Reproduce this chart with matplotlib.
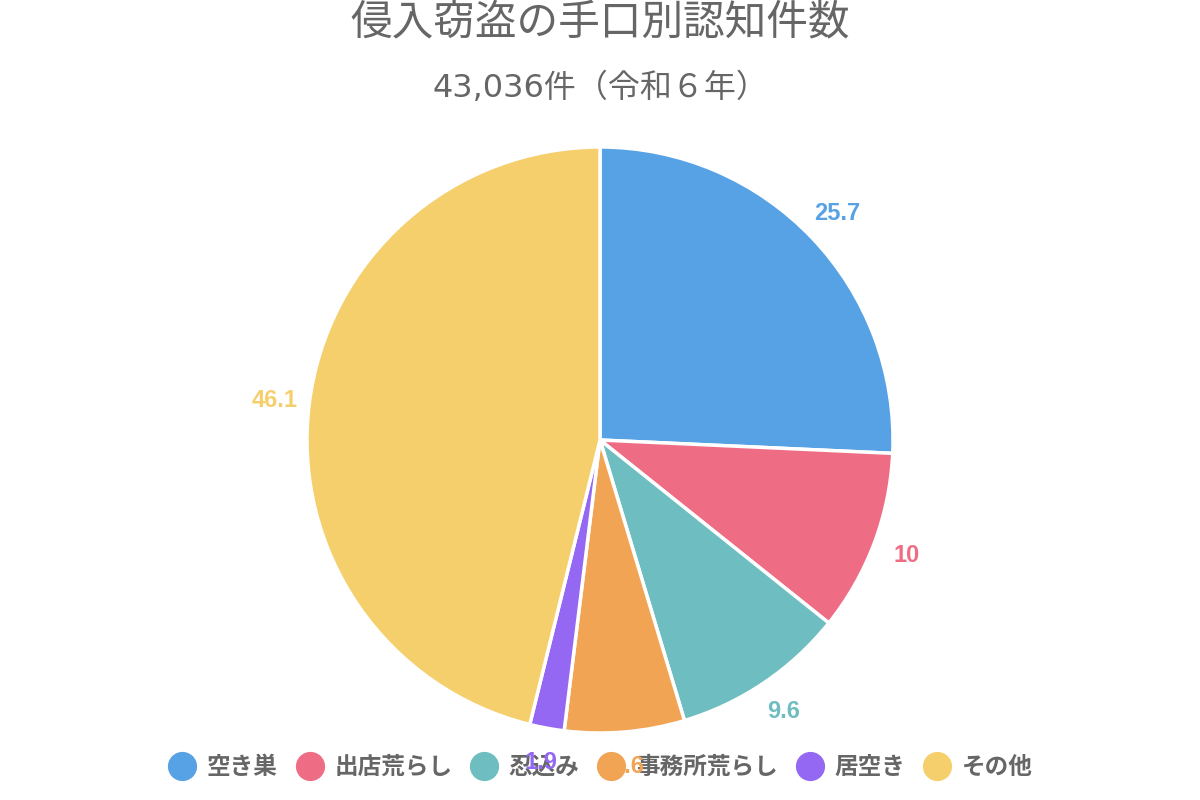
import matplotlib
matplotlib.use("Agg")
import matplotlib.pyplot as plt
from matplotlib.lines import Line2D

categories = ["空き巣", "出店荒らし", "忍込み", "事務所荒らし", "居空き", "その他"]
values = [25.7, 10, 9.6, 6.6, 1.9, 46.1]
value_labels = ["25.7", "10", "9.6", "6.6", "1.9", "46.1"]
colors = ["#57A1E5", "#EE6D85", "#6EBDC0", "#F0A454", "#9568F4", "#F6CF6D"]
title = "侵入窃盗の手口別認知件数"
subtitle = "43,036件（令和６年）"

cjk = ["Noto Sans CJK JP", "DejaVu Sans"]
plt.rcParams["font.family"] = cjk

fig = plt.figure(figsize=(12, 8), dpi=100)
ax = fig.add_axes([0, 0, 1, 1])

wedges, texts = ax.pie(
    values, labels=value_labels, colors=colors, startangle=90, counterclock=False,
    center=(600, 360), radius=293, labeldistance=1.12,
    wedgeprops=dict(edgecolor="white", linewidth=2.5),
    textprops=dict(fontsize=17, fontweight="bold", family=["Liberation Sans", "DejaVu Sans"]),
    frame=True,
)
for t, c in zip(texts, colors):
    t.set_color(c)
    t.set_ha("center")
    t.set_va("center")
    t.set_zorder(10)
ax.set_xlim(0, 1200)
ax.set_ylim(0, 800)
ax.set_aspect("equal")
ax.axis("off")

fig.text(0.5, 1 - 24 / 800, title, ha="center", va="center", fontsize=30, color="#666666")
fig.text(0.5, 1 - 88 / 800, subtitle, ha="center", va="center", fontsize=23,
         color="#666666", family=["DejaVu Sans", "Noto Sans CJK JP"])

handles = [Line2D([0], [0], marker="o", linestyle="none", markersize=20,
                  markerfacecolor=c, markeredgecolor=c) for c in colors]
leg = ax.legend(handles, categories, loc="center", bbox_to_anchor=(0.5, 1 - 767 / 800),
                bbox_transform=fig.transFigure, ncol=6, frameon=False,
                handlelength=1.25, handletextpad=0.42, columnspacing=0.72,
                prop=dict(family=cjk, weight="bold", size=17))
leg.set_zorder(5)
for t in leg.get_texts():
    t.set_color("#666666")

fig.savefig("out.png", dpi=100)
